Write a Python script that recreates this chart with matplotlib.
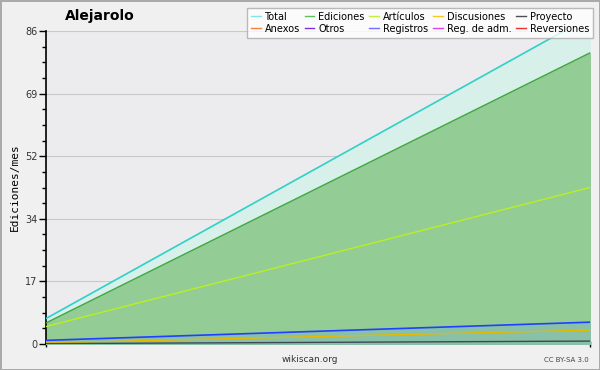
import matplotlib.pyplot as plt
from matplotlib.ticker import MultipleLocator, FixedLocator

# ---------- DATA ---------- #
months = [0, 1]
total = [7.0, 90.0]
ediciones = [5.8, 80.0]
articulos = [4.8, 43.0]
registros = [1.0, 6.0]
discusiones = [0.3, 3.8]
proyecto = [0.1, 0.8]
yticks = [0, 17.2, 34.4, 51.6, 68.8, 86]
ytick_labels = ["0", "17", "34", "52", "69", "86"]

legend_names = ["Total", "Ediciones", "Artículos", "Discusiones", "Proyecto",
                "Anexos", "Otros", "Registros", "Reg. de adm.", "Reversiones"]
legend_colors = ["#7fe8e0", "#60c060", "#c0f040", "#f8c820", "#505050",
                 "#f88040", "#8030e0", "#7070ff", "#e040f0", "#f03030"]

# ---------- FIGURE ---------- #
fig = plt.figure(figsize=(6, 3.7), dpi=100)
fig.patch.set_facecolor("#f0f0f0")
fig.patch.set_edgecolor("#aaaaaa")
fig.patch.set_linewidth(2)
ax = fig.add_axes([46 / 600, 26 / 370, 544 / 600, 313 / 370])
ax.set_facecolor("#ececee")

ax.fill_between(months, 0, total, color="#d8f0ea", zorder=1)
ax.plot(months, total, color="#30d0c8", lw=1.2, zorder=4)
ax.fill_between(months, 0, ediciones, color="#94cc96", zorder=2)
ax.plot(months, ediciones, color="#40a840", lw=1.0, zorder=4)
ax.plot(months, articulos, color="#b8f020", lw=1.0, zorder=4)
ax.fill_between(months, 0, registros, color="#88c0a8", zorder=3)
ax.plot(months, registros, color="#2040ff", lw=1.2, zorder=5)
ax.plot(months, discusiones, color="#e8b800", lw=1.0, zorder=5)
ax.plot(months, proyecto, color="#404858", lw=1.0, zorder=5)

ax.set_xlim(0, 1)
ax.set_ylim(0, 86)
ax.yaxis.set_major_locator(FixedLocator(yticks))
ax.set_yticklabels(ytick_labels, fontsize=7, color="#333333")
ax.yaxis.set_minor_locator(MultipleLocator(4.3))
ax.tick_params(axis="y", which="major", length=5, width=1, direction="out", pad=1)
ax.tick_params(axis="y", which="minor", length=3, width=1, direction="out")
ax.set_xticks([0, 1])
ax.set_xticklabels([])
ax.tick_params(axis="x", length=4, width=1, direction="inout")
ax.grid(axis="y", which="major", color="#c8c8c8", lw=0.8, zorder=0)
ax.set_axisbelow(True)
for s in ["top", "right"]:
    ax.spines[s].set_visible(False)
ax.spines["left"].set_linewidth(1.2)
ax.spines["bottom"].set_linewidth(1.2)

ax.set_ylabel("Ediciones/mes", fontsize=8, family="DejaVu Sans Mono", labelpad=4)

fig.text(100 / 600, 1 - 16 / 370, "Alejarolo", fontsize=10, fontweight="bold",
         ha="center", va="center")
fig.text(310 / 600, 1 - 360 / 370, "wikiscan.org", fontsize=6.5, ha="center",
         va="center", color="#333333")
fig.text(589 / 600, 1 - 360 / 370, "CC BY-SA 3.0", fontsize=5, ha="right",
         va="center", color="#444444")

handles = [plt.Line2D([], [], color=c, lw=1) for c in legend_colors]
# matplotlib fills columns first, so reorder to read row by row
order = []
for col in range(5):
    order += [col, col + 5]
leg = fig.legend([handles[i] for i in order], [legend_names[i] for i in order],
                 ncol=5, loc="upper right", bbox_to_anchor=(593 / 600, 1 - 8 / 370),
                 fontsize=7, frameon=True, fancybox=False, handlelength=1.0,
                 handletextpad=0.4, columnspacing=0.5, labelspacing=0.2,
                 borderpad=0.4, borderaxespad=0)
leg.get_frame().set_edgecolor("#aaaaaa")
leg.get_frame().set_facecolor("white")

fig.savefig("out.png", dpi=100, facecolor=fig.get_facecolor(),
            edgecolor=fig.get_edgecolor())
